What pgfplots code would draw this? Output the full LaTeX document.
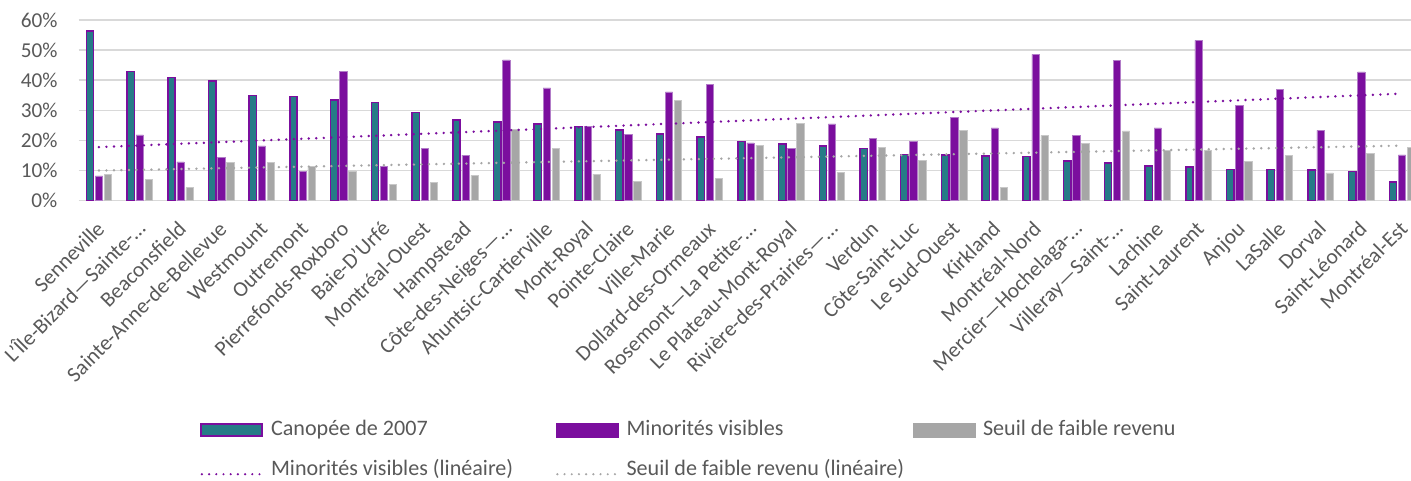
\documentclass[border=0pt]{standalone}
\usepackage{fontspec}
\setmainfont{Carlito}
\usepackage{pgfplots}
\pgfplotsset{compat=1.18}
\usepackage{pgfplotstable}
\definecolor{cteal}{HTML}{267B87}
\definecolor{cpurp}{HTML}{7B0E9E}
\definecolor{cpurpl}{HTML}{B27CC8}
\definecolor{cgray}{HTML}{A6A6A6}
\definecolor{cgrayl}{HTML}{C8C8C8}
\definecolor{gridgray}{HTML}{D9D9D9}
\definecolor{textgray}{HTML}{595959}

\pgfplotstableread{
x can min sfr
1 56.3 8.1 8.75
2 42.9 21.8 7.0
3 40.8 12.8 4.2
4 39.7 14.4 12.5
5 34.9 18.1 12.7
6 34.5 9.65 11.3
7 33.4 42.9 9.8
8 32.6 11.3 5.4
9 29.2 17.4 6.0
10 26.8 15.0 8.3
11 26.0 46.7 23.5
12 25.4 37.4 17.2
13 24.6 24.6 8.75
14 23.4 22.0 6.4
15 22.1 36.1 33.3
16 21.0 38.7 7.4
17 19.5 19.1 18.4
18 18.8 17.4 25.5
19 18.1 25.4 9.4
20 17.2 20.7 17.5
21 15.3 19.7 13.4
22 15.0 27.7 23.2
23 14.8 24.1 4.2
24 14.6 48.6 21.6
25 13.0 21.5 19.0
26 12.4 46.6 23.1
27 11.5 24.1 16.7
28 11.1 53.2 16.5
29 10.3 31.7 13.0
30 10.2 36.9 15.0
31 10.1 23.3 9.1
32 9.65 42.7 15.6
33 6.1 15.1 17.5
}\datatable

\pgfplotsset{
  tealimg/.style={legend image code/.code={\draw[fill=cteal, draw=cpurp, line width=1.5pt] (0pt,-6pt) rectangle (61pt,6pt);}},
  purpimg/.style={legend image code/.code={\fill[cpurp] (0pt,-7pt) rectangle (62pt,7pt);}},
  grayimg/.style={legend image code/.code={\fill[cgray] (0pt,-7pt) rectangle (62pt,7pt);}},
  ptrendimg/.style={legend image code/.code={\draw[cpurp, line width=2.4pt, line cap=round, dash pattern=on 0pt off 7.2pt] (1pt,-4pt) -- (61pt,-4pt);}},
  gtrendimg/.style={legend image code/.code={\draw[cgray, line width=2.4pt, line cap=round, dash pattern=on 0pt off 7.2pt] (1pt,-4pt) -- (61pt,-4pt);}},
}

\begin{document}
\begin{tikzpicture}
\begin{axis}[
  at={(0pt,0pt)}, anchor=south west,
  scale only axis,
  width=1343.8pt, height=180.3pt,
  xmin=0.5, xmax=33.5, ymin=0, ymax=60,
  axis line style={draw=none},
  major tick length=0pt,
  tick style={draw=none},
  ymajorgrids,
  grid style={gridgray, line width=1.3pt},
  ytick={0,10,20,30,40,50,60},
  yticklabels={0\%,10\%,20\%,30\%,40\%,50\%,60\%},
  yticklabel style={inner sep=0pt, xshift=-21pt, text=textgray, font=\fontsize{21.2}{24}\selectfont},
  xtick={1,...,33},
  xticklabels={Senneville,L'Île-Bizard—Sainte-…,Beaconsfield,Sainte-Anne-de-Bellevue,Westmount,Outremont,Pierrefonds-Roxboro,Baie-D'Urfé,Montréal-Ouest,Hampstead,Côte-des-Neiges—…,Ahuntsic-Cartierville,Mont-Royal,Pointe-Claire,Ville-Marie,Dollard-des-Ormeaux,Rosemont—La Petite-…,Le Plateau-Mont-Royal,Rivière-des-Prairies—…,Verdun,Côte-Saint-Luc,Le Sud-Ouest,Kirkland,Montréal-Nord,Mercier—Hochelaga-…,Villeray—Saint-…,Lachine,Saint-Laurent,Anjou,LaSalle,Dorval,Saint-Léonard,Montréal-Est},
  xticklabel style={inner sep=0pt, xshift=7pt, yshift=-30pt, rotate=45, anchor=base east, text=textgray, font=\fontsize{21.5}{25}\selectfont},
  legend columns=3,
  legend cell align=left,
  legend style={at={(0.0903,-1.2241)}, anchor=north west, draw=none, fill=none,
    inner sep=0pt, row sep=22pt,
    font=\fontsize{22.1}{25}\selectfont, text=textgray,
    nodes={inner sep=0pt, text height=14pt, text depth=4pt},
    /tikz/every odd column/.append style={column sep=8pt}},
]
\addplot[ybar, bar width=7.3pt, bar shift=-9pt, fill=cteal, draw=cpurp, line width=1.5pt, tealimg]
  table[x=x, y=can] {\datatable};
\addlegendentry{\makebox[285pt][l]{Canopée de 2007}}
\addplot[ybar, bar width=7.3pt, bar shift=0pt, fill=cpurp, draw=cpurpl, line width=0.5pt, purpimg]
  table[x=x, y=min] {\datatable};
\addlegendentry{\makebox[286pt][l]{Minorités visibles}}
\addplot[ybar, bar width=7.3pt, bar shift=9pt, fill=cgray, draw=cgrayl, line width=0.5pt, grayimg]
  table[x=x, y=sfr] {\datatable};
\addlegendentry{Seuil de faible revenu}
\addplot[cpurp, line width=2.7pt, line cap=round, dash pattern=on 0pt off 7.5pt, ptrendimg]
  coordinates {(1,17.7) (33,35.5)};
\addlegendentry{Minorités visibles (linéaire)}
\addplot[cgray, line width=2.7pt, line cap=round, dash pattern=on 0pt off 7.5pt, gtrendimg]
  coordinates {(1,9.9) (33,18.2)};
\addlegendentry{Seuil de faible revenu (linéaire)}
\end{axis}
\pgfresetboundingbox
\useasboundingbox (-78.6pt,-279.7pt) rectangle (1332.4pt,200.3pt);
\end{tikzpicture}
\end{document}
